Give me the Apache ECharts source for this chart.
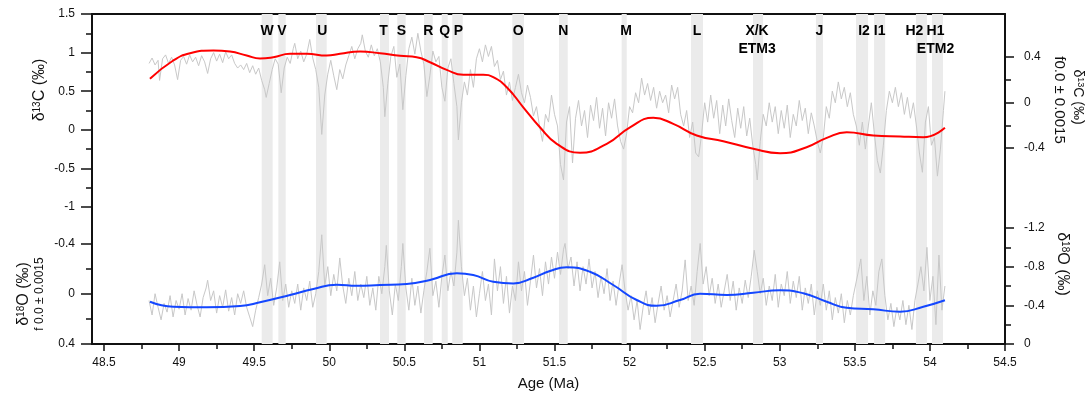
<!DOCTYPE html>
<html>
<head>
<meta charset="utf-8">
<script src="https://cdn.jsdelivr.net/npm/echarts@6/dist/echarts.min.js"></script>
<style>html,body{margin:0;padding:0;background:#fff}#c{width:1091px;height:397px}</style>
</head>
<body>
<div id="c"></div>
<script>
// ---------- DATA ----------
const xMajorTicks = [48.5,49,49.5,50,50.5,51,51.5,52,52.5,53,53.5,54,54.5];
const xMinorTicks = [48.75,49.25,49.75,50.25,50.75,51.25,51.75,52.25,52.75,53.25,53.75,54.25];

const eventNames = ['W','V','U','T','S','R','Q','P','O','N','M','L','X/K\nETM3','J','I2','I1','H2','H1\nETM2'];
const eventStart = [49.550,49.661,49.912,50.338,50.453,50.631,50.749,50.819,51.219,51.530,51.947,52.409,52.822,53.241,53.508,53.628,53.907,54.014];
const eventEnd   = [49.623,49.710,49.983,50.398,50.509,50.689,50.789,50.889,51.297,51.588,51.981,52.489,52.889,53.288,53.588,53.702,53.980,54.087];

// δ13C raw (left axis, ‰)
const c13Raw = [
[48.80,0.86],[48.82,0.93],[48.84,0.84],[48.86,0.90],[48.87,0.64],[48.89,0.92],[48.91,0.97],[48.93,0.86],[48.95,0.94],[48.97,0.84],
[48.99,0.65],[49.01,0.90],[49.03,0.95],[49.05,0.85],[49.07,0.97],[49.09,0.88],[49.11,0.94],[49.13,0.83],[49.15,0.96],[49.17,0.88],
[49.19,0.73],[49.21,0.92],[49.23,1.00],[49.25,0.89],[49.27,0.98],[49.29,0.87],[49.31,1.01],[49.33,0.92],[49.35,0.97],[49.37,0.86],
[49.39,0.80],[49.41,0.84],[49.43,0.78],[49.45,0.86],[49.47,0.74],[49.49,0.83],[49.51,0.72],[49.53,0.80],[49.55,0.64],[49.57,0.52],
[49.58,0.42],[49.60,0.60],[49.62,0.78],[49.64,0.92],[49.66,0.85],[49.68,0.48],[49.70,0.80],[49.72,0.94],[49.74,0.86],[49.76,1.05],
[49.77,1.12],[49.79,0.92],[49.81,1.02],[49.83,0.88],[49.85,0.98],[49.87,1.17],[49.89,0.93],[49.91,0.78],[49.93,0.55],[49.95,-0.06],
[49.97,0.45],[49.99,0.72],[50.01,0.90],[50.03,0.70],[50.05,0.52],[50.07,0.78],[50.09,0.66],[50.11,0.84],[50.13,0.96],[50.15,1.08],
[50.17,0.92],[50.19,1.05],[50.21,1.12],[50.22,1.23],[50.24,1.02],[50.26,0.94],[50.28,1.10],[50.30,0.96],[50.32,1.05],[50.34,0.88],
[50.36,0.55],[50.37,0.17],[50.39,0.60],[50.41,0.95],[50.43,1.08],[50.45,0.68],[50.47,0.85],[50.49,0.26],[50.51,0.70],[50.53,1.05],
[50.55,1.20],[50.57,0.98],[50.59,1.25],[50.61,1.02],[50.63,0.85],[50.65,0.43],[50.67,0.70],[50.69,1.02],[50.71,0.88],[50.73,0.95],
[50.75,0.55],[50.77,0.37],[50.79,0.80],[50.81,0.92],[50.83,0.60],[50.85,0.30],[50.86,-0.13],[50.88,0.35],[50.90,0.62],[50.92,0.45],
[50.94,0.78],[50.96,0.55],[50.98,0.92],[51.00,1.05],[51.02,0.88],[51.04,1.10],[51.06,0.95],[51.08,1.08],[51.10,0.82],[51.12,0.90],
[51.14,0.65],[51.16,0.76],[51.18,0.45],[51.20,0.62],[51.22,0.38],[51.24,0.55],[51.26,0.72],[51.28,0.48],[51.30,0.35],[51.32,0.58],
[51.34,0.42],[51.36,0.18],[51.38,0.30],[51.40,0.05],[51.42,-0.15],[51.44,0.20],[51.46,0.10],[51.48,0.45],[51.50,0.20],[51.52,0.05],
[51.54,-0.45],[51.56,-0.65],[51.58,0.10],[51.60,0.30],[51.62,-0.43],[51.64,0.15],[51.66,0.38],[51.68,0.05],[51.70,0.25],[51.72,-0.10],
[51.74,0.32],[51.76,0.12],[51.78,0.42],[51.80,0.02],[51.82,0.28],[51.84,-0.08],[51.86,0.35],[51.88,0.15],[51.90,0.40],[51.92,0.05],
[51.94,-0.15],[51.96,-0.25],[51.98,-0.05],[52.00,0.30],[52.02,0.22],[52.04,0.48],[52.06,0.35],[52.08,0.67],[52.10,0.45],[52.12,0.60],
[52.14,0.38],[52.16,0.55],[52.18,0.28],[52.20,0.50],[52.22,0.35],[52.24,0.45],[52.26,0.22],[52.28,0.58],[52.30,0.40],[52.32,0.55],
[52.34,0.20],[52.36,0.05],[52.38,0.25],[52.40,-0.10],[52.42,0.10],[52.44,-0.30],[52.46,-0.35],[52.48,-0.05],[52.50,0.35],[52.52,0.10],
[52.54,0.45],[52.56,0.15],[52.58,0.38],[52.60,-0.05],[52.62,0.32],[52.64,0.05],[52.66,0.40],[52.68,0.12],[52.70,-0.10],[52.72,0.28],
[52.74,0.02],[52.76,0.30],[52.78,-0.08],[52.80,0.15],[52.82,-0.20],[52.84,-0.45],[52.85,-0.65],[52.87,-0.15],[52.89,0.20],[52.91,0.05],
[52.93,0.35],[52.95,0.10],[52.97,0.30],[52.99,-0.05],[53.01,0.25],[53.03,0.02],[53.05,0.32],[53.07,-0.10],[53.09,0.20],[53.11,0.05],
[53.13,0.38],[53.15,0.12],[53.17,0.28],[53.19,-0.05],[53.21,0.22],[53.23,0.05],[53.25,-0.15],[53.27,-0.30],[53.29,-0.10],[53.31,0.30],
[53.33,0.15],[53.35,0.50],[53.37,0.35],[53.39,0.62],[53.41,0.40],[53.43,0.55],[53.45,0.30],[53.47,0.48],[53.49,0.20],[53.51,0.05],
[53.53,-0.20],[53.55,0.10],[53.57,-0.25],[53.59,0.05],[53.61,0.35],[53.63,-0.05],[53.65,-0.40],[53.67,-0.56],[53.69,-0.20],[53.71,0.25],
[53.73,0.50],[53.75,0.35],[53.77,0.55],[53.79,0.30],[53.81,0.48],[53.83,0.20],[53.85,0.42],[53.87,0.15],[53.89,0.35],[53.91,0.05],
[53.93,-0.30],[53.95,-0.55],[53.97,0.10],[53.99,0.30],[54.01,-0.20],[54.03,-0.10],[54.05,-0.60],[54.07,-0.25],[54.09,0.25],[54.10,0.50]
];

// δ13C filtered f0.0±0.0015 (right axis, ‰)
const c13Filt = [
[48.806,0.208],[48.961,0.369],[49.073,0.433],[49.228,0.457],[49.339,0.448],[49.450,0.413],[49.539,0.387],[49.627,0.398],
[49.739,0.428],[49.850,0.428],[49.983,0.413],[50.072,0.428],[50.205,0.448],[50.338,0.433],[50.471,0.410],[50.582,0.398],
[50.671,0.354],[50.782,0.287],[50.893,0.243],[51.026,0.243],[51.092,0.223],[51.182,0.134],[51.292,-0.042],[51.403,-0.218],
[51.515,-0.363],[51.670,-0.442],[51.848,-0.363],[52.003,-0.218],[52.158,-0.135],[52.291,-0.188],[52.447,-0.290],[52.624,-0.340],
[52.824,-0.407],[53.002,-0.446],[53.179,-0.393],[53.313,-0.311],[53.446,-0.261],[53.623,-0.290],[53.801,-0.299],[53.956,-0.305],
[54.100,-0.223]
];

// δ18O raw (right axis, ‰)
const o18Raw = [
[48.80,-0.45],[48.82,-0.30],[48.84,-0.52],[48.86,-0.38],[48.88,-0.25],[48.90,-0.42],[48.92,-0.33],[48.94,-0.50],[48.96,-0.28],[48.98,-0.45],
[49.00,-0.36],[49.02,-0.52],[49.04,-0.30],[49.06,-0.47],[49.08,-0.35],[49.10,-0.55],[49.12,-0.40],[49.14,-0.28],[49.16,-0.48],[49.18,-0.58],
[49.19,-0.66],[49.21,-0.45],[49.23,-0.55],[49.25,-0.32],[49.27,-0.50],[49.29,-0.38],[49.31,-0.56],[49.33,-0.34],[49.35,-0.48],[49.37,-0.30],
[49.39,-0.52],[49.41,-0.42],[49.43,-0.55],[49.45,-0.38],[49.47,-0.28],[49.49,-0.18],[49.51,-0.35],[49.53,-0.48],[49.55,-0.62],[49.57,-0.82],
[49.59,-0.50],[49.61,-0.68],[49.63,-0.40],[49.65,-0.58],[49.67,-0.85],[49.69,-0.45],[49.71,-0.62],[49.73,-0.38],[49.75,-0.55],[49.77,-0.42],
[49.79,-0.62],[49.81,-0.35],[49.83,-0.58],[49.85,-0.45],[49.87,-0.65],[49.89,-0.38],[49.91,-0.52],[49.93,-0.75],[49.95,-1.13],[49.97,-0.60],
[49.99,-0.80],[50.01,-0.50],[50.03,-0.72],[50.05,-0.55],[50.07,-0.89],[50.09,-0.60],[50.11,-0.42],[50.13,-0.68],[50.15,-0.50],[50.17,-0.75],
[50.19,-0.45],[50.21,-0.62],[50.23,-0.48],[50.25,-0.70],[50.27,-0.40],[50.29,-0.58],[50.31,-0.35],[50.33,-0.70],[50.35,-0.52],[50.37,-0.80],
[50.38,-1.02],[50.40,-0.55],[50.42,-0.30],[50.44,-0.62],[50.46,-0.45],[50.48,-0.80],[50.49,-1.04],[50.51,-0.58],[50.53,-0.35],[50.55,-0.68],
[50.57,-0.40],[50.59,-0.60],[50.61,-0.32],[50.63,-0.55],[50.65,-0.75],[50.67,-0.99],[50.69,-0.50],[50.71,-0.65],[50.73,-0.38],[50.75,-0.70],
[50.77,-0.92],[50.79,-0.55],[50.81,-0.75],[50.83,-0.60],[50.85,-0.95],[50.86,-1.28],[50.88,-0.80],[50.90,-0.50],[50.92,-0.68],[50.94,-0.35],
[50.96,-0.60],[50.98,-0.28],[51.00,-0.52],[51.02,-0.75],[51.04,-0.45],[51.06,-0.62],[51.08,-0.30],[51.10,-0.88],[51.12,-0.55],[51.14,-0.80],
[51.16,-0.42],[51.18,-0.70],[51.20,-0.32],[51.22,-0.60],[51.24,-0.45],[51.26,-0.85],[51.28,-0.55],[51.30,-0.75],[51.32,-0.40],[51.34,-0.65],
[51.36,-0.92],[51.38,-0.58],[51.40,-0.78],[51.42,-0.50],[51.44,-0.85],[51.46,-0.62],[51.48,-0.90],[51.50,-0.68],[51.52,-0.95],[51.54,-0.72],
[51.56,-0.98],[51.57,-1.04],[51.59,-0.78],[51.61,-0.90],[51.63,-0.60],[51.65,-0.85],[51.67,-0.55],[51.69,-0.80],[51.71,-0.62],[51.73,-0.88],
[51.75,-0.58],[51.77,-0.75],[51.79,-0.48],[51.81,-0.70],[51.83,-0.52],[51.85,-0.78],[51.87,-0.45],[51.89,-0.65],[51.91,-0.40],[51.93,-0.62],
[51.95,-0.82],[51.97,-0.55],[51.99,-0.35],[52.01,-0.50],[52.03,-0.25],[52.05,-0.45],[52.07,-0.15],[52.09,-0.38],[52.11,-0.55],[52.13,-0.30],
[52.15,-0.48],[52.17,-0.22],[52.19,-0.42],[52.21,-0.60],[52.23,-0.35],[52.25,-0.50],[52.27,-0.28],[52.29,-0.45],[52.31,-0.62],[52.33,-0.38],
[52.35,-0.55],[52.37,-0.87],[52.39,-0.45],[52.41,-0.60],[52.43,-0.40],[52.45,-0.75],[52.47,-1.04],[52.49,-0.62],[52.51,-0.80],[52.53,-0.50],
[52.55,-0.68],[52.57,-0.42],[52.59,-0.62],[52.61,-0.38],[52.63,-0.55],[52.65,-0.72],[52.67,-0.45],[52.69,-0.65],[52.71,-0.35],[52.73,-0.58],
[52.75,-0.42],[52.77,-0.66],[52.79,-0.48],[52.81,-0.70],[52.83,-0.97],[52.85,-0.75],[52.87,-0.52],[52.89,-0.68],[52.91,-0.40],[52.93,-0.60],
[52.95,-0.45],[52.97,-0.72],[52.99,-0.38],[53.01,-0.62],[53.03,-0.50],[53.05,-0.75],[53.07,-0.42],[53.09,-0.65],[53.11,-0.48],[53.13,-0.70],
[53.15,-0.35],[53.17,-0.58],[53.19,-0.42],[53.21,-0.62],[53.23,-0.30],[53.25,-0.55],[53.27,-0.40],[53.29,-0.62],[53.31,-0.35],[53.33,-0.55],
[53.35,-0.25],[53.37,-0.48],[53.39,-0.32],[53.41,-0.52],[53.43,-0.22],[53.45,-0.45],[53.47,-0.30],[53.49,-0.50],[53.51,-0.65],[53.53,-0.80],
[53.54,-0.88],[53.56,-0.45],[53.58,-0.70],[53.60,-0.30],[53.62,-0.55],[53.64,-0.40],[53.66,-0.75],[53.68,-0.88],[53.70,-0.50],[53.72,-0.25],
[53.74,-0.42],[53.76,-0.18],[53.78,-0.38],[53.80,-0.25],[53.82,-0.45],[53.84,-0.20],[53.86,-0.40],[53.88,-0.15],[53.90,-0.45],[53.92,-0.62],
[53.94,-0.80],[53.96,-0.55],[53.98,-1.00],[54.00,-0.45],[54.02,-0.70],[54.04,-0.20],[54.06,-0.92],[54.08,-0.35],[54.10,-0.60]
];

// δ18O filtered f0.0±0.0015 (left axis, ‰)
const o18Filt = [
[48.806,0.062],[48.961,0.102],[49.184,0.106],[49.406,0.096],[49.539,0.066],[49.739,0.008],[49.894,-0.040],[50.050,-0.074],
[50.183,-0.066],[50.338,-0.072],[50.516,-0.080],[50.671,-0.112],[50.849,-0.166],[50.959,-0.152],[51.092,-0.098],[51.226,-0.085],
[51.359,-0.130],[51.470,-0.184],[51.581,-0.214],[51.736,-0.178],[51.891,-0.072],[52.047,0.048],[52.180,0.094],[52.336,0.048],
[52.469,-0.002],[52.647,0.008],[52.824,-0.010],[53.002,-0.030],[53.157,-0.006],[53.313,0.062],[53.446,0.110],[53.623,0.122],
[53.801,0.142],[53.956,0.102],[54.100,0.050]
];

// ---------- CHART ----------
const FONT = '"Liberation Sans", Arial, sans-serif';
const INK = '#111';
const chart = echarts.init(document.getElementById('c'), null, {renderer: 'canvas'});

const L = 92, R = 86;
const grids = [
  {left: L, right: R, top: 14, bottom: 53},   // 0 frame
  {left: L, right: R, top: 14, height: 193},  // 1 δ13C left
  {left: L, right: R, top: 244, height: 100}, // 2 δ18O left
  {left: L, right: R, top: 57, height: 91},   // 3 δ13C right
  {left: L, right: R, top: 228, height: 116}  // 4 δ18O right
];
const XMIN = 48.42, XMAX = 54.5;
function hiddenX(g){ return {type:'value', gridIndex:g, min:XMIN, max:XMAX, show:false}; }

const labelStyle = {color: INK, fontSize: 12, fontFamily: FONT};
const lineStyle = {color: INK, width: 2};

const bandData = eventNames.map((n, i) => {
  const off = {'H2': [-7, 0], 'H1\nETM2': [-2, 0], 'X/K\nETM3': [-1, 0], 'U': [1, 0], 'T': [-1, 0], 'P': [1, 0], 'M': [2, 0], 'I2': [2, 0]}[n] || [0, 0];
  return [{xAxis: eventStart[i], name: n, label: {offset: off}}, {xAxis: eventEnd[i]}];
});

const option = {
  backgroundColor: '#fff',
  animation: false,
  grid: grids,
  xAxis: [
    {type:'value', gridIndex:0, position:'bottom', min:XMIN, max:XMAX,
     axisLine:{show:true, onZero:false, lineStyle}, splitLine:{show:false},
     axisTick:{show:true, length:7, lineStyle:{color:INK, width:1.5}, customValues: xMajorTicks},
     axisLabel:{show:true, margin:13, customValues: xMajorTicks, formatter: v => String(+v.toFixed(2)), ...labelStyle},
     name:'Age (Ma)', nameLocation:'middle', nameGap:32,
     nameTextStyle:{fontSize:15, color:INK, fontFamily:FONT}},
    {type:'value', gridIndex:0, position:'top', min:XMIN, max:XMAX,
     axisLine:{show:true, onZero:false, lineStyle}, axisTick:{show:false}, axisLabel:{show:false}, splitLine:{show:false}},
    hiddenX(1),
    {type:'value', gridIndex:2, position:'bottom', min:XMIN, max:XMAX,
     axisLine:{show:false, onZero:false}, splitLine:{show:false}, axisLabel:{show:false},
     axisTick:{show:true, length:5, lineStyle:{color:INK, width:1.5}, customValues: xMinorTicks}},
    hiddenX(3),
    hiddenX(4)
  ],
  yAxis: [
    {type:'value', gridIndex:0, position:'left', min:0, max:1,
     axisLine:{show:true, onZero:false, lineStyle}, axisTick:{show:false}, axisLabel:{show:false}, splitLine:{show:false}},
    {type:'value', gridIndex:0, position:'right', min:0, max:1,
     axisLine:{show:true, onZero:false, lineStyle}, axisTick:{show:false}, axisLabel:{show:false}, splitLine:{show:false}},
    {type:'value', gridIndex:1, position:'left', min:-1, max:1.5, interval:0.5,
     axisLine:{show:false, onZero:false}, splitLine:{show:false},
     axisTick:{show:true, length:11, lineStyle:{color:INK, width:1.5}},
     minorTick:{show:true, splitNumber:2, length:6, lineStyle:{color:INK, width:1.5}},
     axisLabel:{margin:17, ...labelStyle}},
    {type:'value', gridIndex:2, position:'left', min:-0.4, max:0.4, interval:0.4, inverse:true,
     axisLine:{show:false, onZero:false}, splitLine:{show:false},
     axisTick:{show:true, length:11, lineStyle:{color:INK, width:1.5}},
     minorTick:{show:true, splitNumber:2, length:6, lineStyle:{color:INK, width:1.5}},
     axisLabel:{margin:17, ...labelStyle}},
    {type:'value', gridIndex:3, position:'right', min:-0.4, max:0.4, interval:0.4,
     axisLine:{show:false, onZero:false}, splitLine:{show:false},
     axisTick:{show:true, length:9, lineStyle:{color:INK, width:1.5}},
     minorTick:{show:true, splitNumber:2, length:6, lineStyle:{color:INK, width:1.5}},
     axisLabel:{margin:19, ...labelStyle}},
    {type:'value', gridIndex:4, position:'right', min:-1.2, max:0, interval:0.4, inverse:true,
     axisLine:{show:false, onZero:false}, splitLine:{show:false},
     axisTick:{show:true, length:9, lineStyle:{color:INK, width:1.5}},
     minorTick:{show:true, splitNumber:2, length:6, lineStyle:{color:INK, width:1.5}},
     axisLabel:{margin:19, ...labelStyle}}
  ],
  series: [
    {type:'line', xAxisIndex:0, yAxisIndex:0, data:[], silent:true, z:1,
     markArea:{silent:true, itemStyle:{color:'#ebebeb'},
       label:{show:true, position:'insideTop', distance:8, color:'#000', fontWeight:'bold', fontSize:14, fontFamily:FONT, lineHeight:18, align:'center'},
       data: bandData}},
    {name:'δ13C raw', type:'line', xAxisIndex:2, yAxisIndex:2, data:c13Raw, symbol:'none', clip:false, z:2,
     lineStyle:{color:'#c8c8c8', width:1}},
    {name:'δ18O raw', type:'line', xAxisIndex:5, yAxisIndex:5, data:o18Raw, symbol:'none', clip:false, z:2,
     lineStyle:{color:'#c8c8c8', width:1}},
    {name:'δ13C filtered', type:'line', xAxisIndex:4, yAxisIndex:4, data:c13Filt, symbol:'none', smooth:0.5, clip:false, z:3,
     lineStyle:{color:'#ff0000', width:2}},
    {name:'δ18O filtered', type:'line', xAxisIndex:3, yAxisIndex:3, data:o18Filt, symbol:'none', smooth:0.5, clip:false, z:3,
     lineStyle:{color:'#1447ff', width:2}}
  ],
  graphic: [
    {type:'text', x:40, y:90, rotation:Math.PI/2, z:10,
     style:{text:'{a|δ}{s|13}{a|C (‰)}', align:'center', verticalAlign:'middle', fill:INK,
       rich:{a:{fontSize:16, fontFamily:FONT, fill:INK}, s:{fontSize:10, fontFamily:FONT, fill:INK, verticalAlign:'top'}}}},
    {type:'text', x:24, y:294, rotation:Math.PI/2, z:10,
     style:{text:'{a|δ}{s|18}{a|O (‰)}', align:'center', verticalAlign:'middle', fill:INK,
       rich:{a:{fontSize:16, fontFamily:FONT, fill:INK}, s:{fontSize:10, fontFamily:FONT, fill:INK, verticalAlign:'top'}}}},
    {type:'text', x:40, y:294, rotation:Math.PI/2, z:10,
     style:{text:'f 0.0 ± 0.0015', align:'center', verticalAlign:'middle', fill:INK, fontSize:12, fontFamily:FONT}},
    {type:'text', x:1078, y:97, rotation:-Math.PI/2, z:10,
     style:{text:'{a|δ}{s|13}{a|C (‰)}', align:'center', verticalAlign:'middle', fill:INK,
       rich:{a:{fontSize:14, fontFamily:FONT, fill:INK}, s:{fontSize:9, fontFamily:FONT, fill:INK, verticalAlign:'top'}}}},
    {type:'text', x:1059, y:100, rotation:-Math.PI/2, z:10,
     style:{text:'f0.0 ± 0.0015', align:'center', verticalAlign:'middle', fill:INK, fontSize:15, fontFamily:FONT}},
    {type:'text', x:1062, y:264, rotation:-Math.PI/2, z:10,
     style:{text:'{a|δ}{s|18}{a|O (‰)}', align:'center', verticalAlign:'middle', fill:INK,
       rich:{a:{fontSize:16, fontFamily:FONT, fill:INK}, s:{fontSize:10, fontFamily:FONT, fill:INK, verticalAlign:'top'}}}}
  ]
};
chart.setOption(option);
</script>
</body>
</html>
